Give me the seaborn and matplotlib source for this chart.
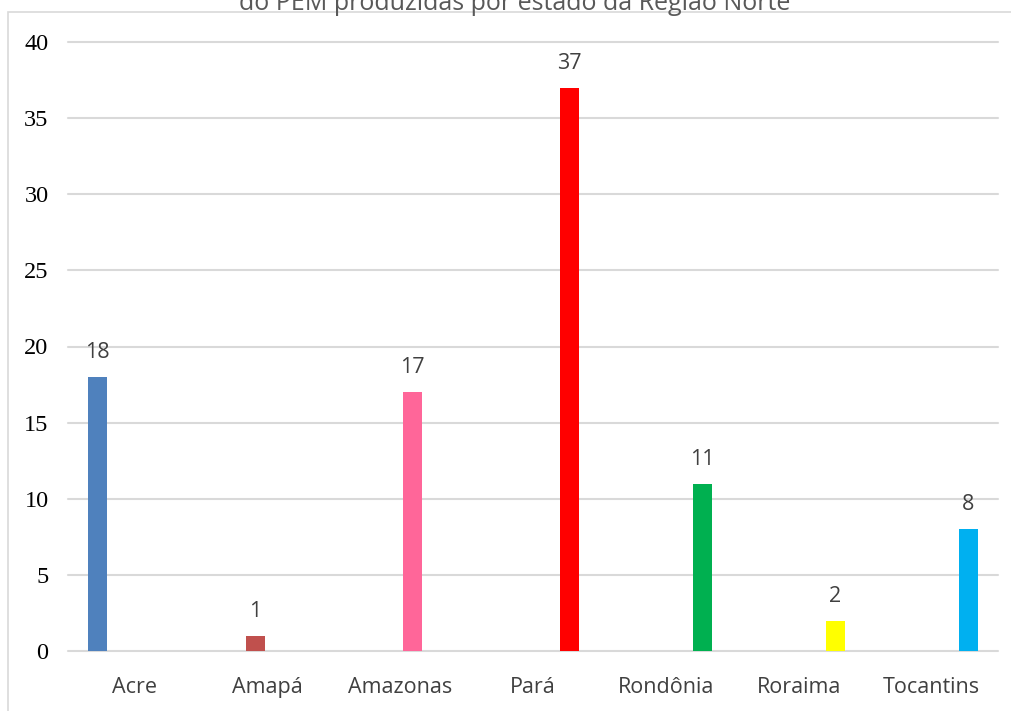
import matplotlib
matplotlib.use("Agg")
import matplotlib.pyplot as plt
from matplotlib.patches import Rectangle
import seaborn as sns
import pandas as pd

# Data
estados = ["Acre", "Amapá", "Amazonas", "Pará", "Rondônia", "Roraima", "Tocantins"]
valores = [18, 1, 17, 37, 11, 2, 8]
series = ["S1", "S2", "S3", "S4", "S4", "S4", "S4"]
cores = ["#4F81BD", "#C0504D", "#FF6699", "#FF0000", "#00B050", "#FFFF00", "#00B0F0"]
titulo = "do PEM produzidas por estado da Região Norte"

df = pd.DataFrame({"estado": estados, "valor": valores, "serie": series})

sns.set_theme(style="white")

W, H = 1012, 711
fig = plt.figure(figsize=(W / 100, H / 100), dpi=100)
ax = fig.add_axes([68 / W, 1 - 651 / H, (998 - 68) / W, (651 - 42) / H])

sns.barplot(data=df, x="estado", y="valor", hue="serie",
            hue_order=["S1", "S2", "S3", "S4"], order=estados,
            dodge=True, width=0.735, gap=0.22, legend=False, ax=ax,
            linewidth=0, saturation=1)

# Color each bar by its state and write its value above it
for p in ax.patches:
    cx = p.get_x() + p.get_width() / 2
    idx = int(round(cx))
    idx = min(max(idx, 0), len(estados) - 1)
    p.set_facecolor(cores[idx])
    p.set_edgecolor("none")
for cont in ax.containers:
    ax.bar_label(cont, labels=[f"{int(b.get_height())}" for b in cont],
                 padding=10, fontsize=15.5, color="#404040", family="Open Sans")

ax.set_ylim(0, 40)
ax.set_xlim(-0.5, len(estados) - 0.5)
ax.set_yticks(range(0, 41, 5))
ax.set_xlabel("")
ax.set_ylabel("")
ax.grid(axis="y", color="#d9d9d9", linewidth=1.5)
ax.set_axisbelow(True)
for gl in ax.get_ygridlines():
    gl.set_clip_on(False)
for s in ax.spines.values():
    s.set_visible(False)

ax.tick_params(axis="x", length=0, pad=19)
ax.tick_params(axis="y", length=0, pad=14)
for t in ax.get_xticklabels():
    t.set_fontfamily("Open Sans")
    t.set_fontsize(15.5)
    t.set_color("#404040")
for t in ax.get_yticklabels():
    t.set_fontfamily("Liberation Serif")
    t.set_fontsize(17.5)
    t.set_color("black")

# Chart frame
fig.patches.append(Rectangle((8 / W, -0.1), 1.2, 1.1 - 12 / H,
                             transform=fig.transFigure, fill=False,
                             edgecolor="#d9d9d9", linewidth=1.2))

fig.text(515 / W, 1 - 10 / H, titulo, ha="center", va="baseline",
         fontsize=18, color="#595959", family="Open Sans")

fig.savefig("out.png", dpi=100)
